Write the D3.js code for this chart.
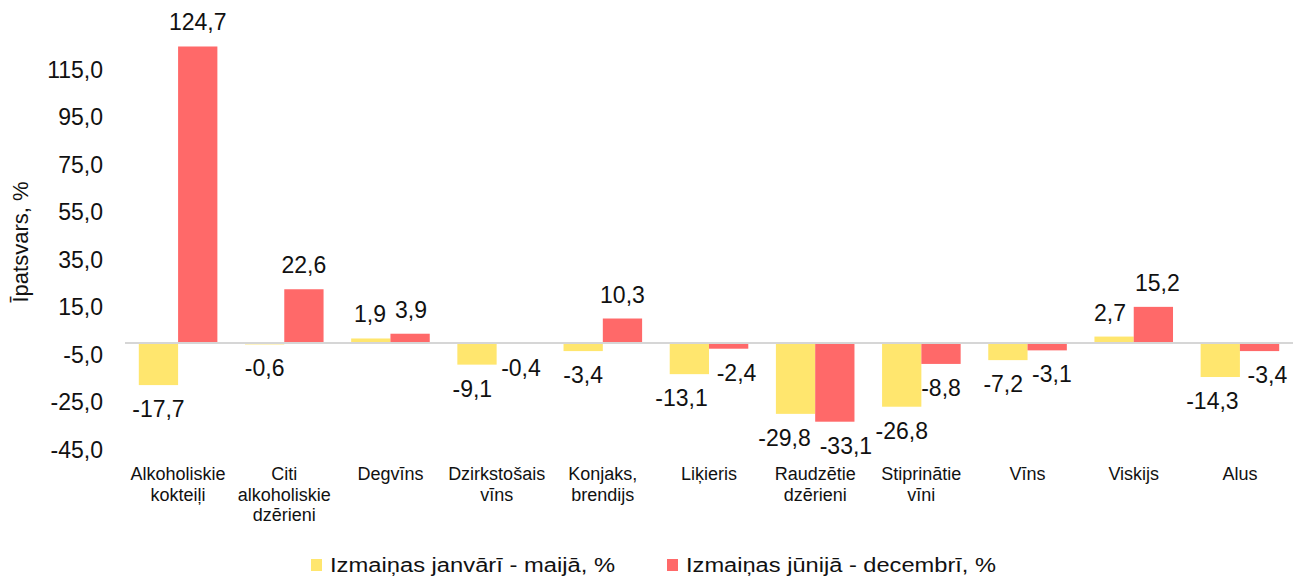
<!DOCTYPE html>
<html>
<head>
<meta charset="utf-8">
<script src="https://cdn.jsdelivr.net/npm/d3@7"></script>
<style>
  html, body { margin: 0; padding: 0; background: #fff; }
  svg { display: block; font-family: "Liberation Sans", Arial, sans-serif; }
</style>
</head>
<body>
<script>
// Categories (some split over several lines)
const categories = [
  ["Alkoholiskie", "kokteiļi"],
  ["Citi", "alkoholiskie", "dzērieni"],
  ["Degvīns"],
  ["Dzirkstošais", "vīns"],
  ["Konjaks,", "brendijs"],
  ["Liķieris"],
  ["Raudzētie", "dzērieni"],
  ["Stiprinātie", "vīni"],
  ["Vīns"],
  ["Viskijs"],
  ["Alus"]
];
const seriesNames = ["Izmaiņas janvārī - maijā, %", "Izmaiņas jūnijā - decembrī, %"];
const janMay = [-17.7, -0.6, 1.9, -9.1, -3.4, -13.1, -29.8, -26.8, -7.2, 2.7, -14.3];
const junDec = [124.7, 22.6, 3.9, -0.4, 10.3, -2.4, -33.1, -8.8, -3.1, 15.2, -3.4];
const yTicks = [-45, -25, -5, 15, 35, 55, 75, 95, 115];
const colors = ["#FFE66E", "#FF6969"];

const width = 1293, height = 576;
const fmt = v => d3.format(".1f")(v).replace(".", ",").replace("−", "-");

const svg = d3.select("body").append("svg")
  .attr("width", width)
  .attr("height", height);

// Scales
const x0 = d3.scaleBand()
  .domain(d3.range(categories.length))
  .range([125, 1293])
  .paddingInner(0.26)
  .paddingOuter(0.13);
const x1 = d3.scaleBand()
  .domain([0, 1])
  .range([0, x0.bandwidth()]);
const y = d3.scaleLinear().domain([-45, 135]).range([450, 22]);

// Y axis tick labels
svg.append("g").selectAll("text")
  .data(yTicks).join("text")
  .attr("x", 103)
  .attr("y", d => y(d))
  .attr("dy", "0.35em")
  .attr("text-anchor", "end")
  .attr("font-size", 23)
  .attr("fill", "#111")
  .text(fmt);

// Y axis title
svg.append("text")
  .attr("transform", `translate(28,${242}) rotate(-90)`)
  .attr("text-anchor", "middle")
  .attr("font-size", 22)
  .attr("fill", "#111")
  .text("Īpatsvars, %");

// Bars
const series = [janMay, junDec];
const groups = svg.append("g").selectAll("g")
  .data(categories.map((c, i) => i)).join("g")
  .attr("transform", i => `translate(${x0(i)},0)`);

const cells = groups.selectAll("g.cell")
  .data(i => series.map((s, k) => ({ k, v: s[i] })))
  .join("g").attr("class", "cell");

cells.append("rect")
  .attr("x", d => x1(d.k))
  .attr("width", x1.bandwidth())
  .attr("y", d => y(Math.max(0, d.v)))
  .attr("height", d => Math.abs(y(d.v) - y(0)))
  .attr("fill", d => colors[d.k]);

// Data labels
cells.append("text")
  .attr("class", "label")
  .attr("x", d => x1(d.k) + x1.bandwidth() / 2)
  .attr("y", d => d.v >= 0 ? y(d.v) - 16 : y(d.v) + 32)
  .attr("text-anchor", "middle")
  .attr("font-size", 23)
  .attr("fill", "#111")
  .text(d => fmt(d.v));

// Push the two labels of a category apart when they collide
groups.each(function () {
  const [a, b] = d3.select(this).selectAll("text.label").nodes();
  const ba = a.getBBox(), bb = b.getBBox();
  const dy = Math.abs((ba.y + ba.height / 2) - (bb.y + bb.height / 2));
  const overlap = ba.x + ba.width + 9 - bb.x;
  if (dy < 35 && overlap > 0) {
    a.setAttribute("x", +a.getAttribute("x") - overlap / 2);
    b.setAttribute("x", +b.getAttribute("x") + overlap / 2);
  }
});

// Zero line
svg.append("line")
  .attr("x1", 125).attr("x2", 1293)
  .attr("y1", y(0)).attr("y2", y(0))
  .attr("stroke", "#D6D6D6")
  .attr("stroke-width", 2);

// Category labels
svg.append("g").selectAll("text")
  .data(categories).join("text")
  .attr("x", (d, i) => x0(i) + x0.bandwidth() / 2)
  .attr("y", 480)
  .attr("text-anchor", "middle")
  .attr("font-size", 18)
  .attr("fill", "#111")
  .selectAll("tspan")
  .data(d => d).join("tspan")
  .attr("x", function () { return this.parentNode.getAttribute("x"); })
  .attr("dy", (d, j) => j === 0 ? 0 : 20.5)
  .text(d => d);

// Legend
const legendItems = [
  { name: seriesNames[0], color: colors[0], x: 311, len: 285 },
  { name: seriesNames[1], color: colors[1], x: 667, len: 310 }
];
const legend = svg.append("g").selectAll("g")
  .data(legendItems).join("g")
  .attr("transform", d => `translate(${d.x},0)`);
legend.append("rect")
  .attr("x", 0).attr("y", 559)
  .attr("width", 11).attr("height", 12)
  .attr("fill", d => d.color);
legend.append("text")
  .attr("x", 19).attr("y", 572)
  .attr("font-size", 19.5)
  .attr("fill", "#111")
  .attr("textLength", d => d.len)
  .attr("lengthAdjust", "spacingAndGlyphs")
  .text(d => d.name);
</script>
</body>
</html>
